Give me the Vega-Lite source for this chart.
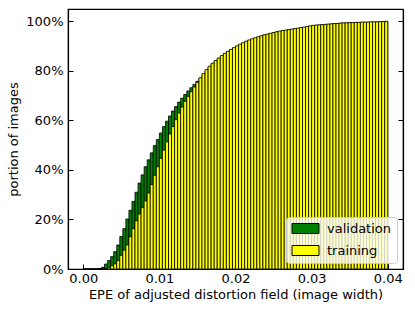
{
  "$schema": "https://vega.github.io/schema/vega-lite/v6.json",
  "width": 335,
  "height": 260,
  "autosize": "none",
  "padding": {"left": 68, "top": 9, "right": 12, "bottom": 43},
  "background": "white",
  "config": {
    "font": "DejaVu Sans",
    "view": {"stroke": "black", "strokeWidth": 1.2},
    "axis": {
      "labelFont": "DejaVu Sans", "labelFontSize": 13, "labelColor": "black",
      "titleFont": "DejaVu Sans", "titleFontSize": 13, "titleColor": "black", "titleFontWeight": "normal",
      "domainColor": "black", "domainWidth": 1.2,
      "tickColor": "black", "tickWidth": 1, "tickSize": -5,
      "grid": false, "zindex": 1
    },
    "legend": {
      "labelFont": "DejaVu Sans", "labelFontSize": 13, "labelColor": "black"
    }
  },
  "data": {"values": [
    {"lo":0.0000,"hi":0.0004,"validation":0,"training":0},
    {"lo":0.0004,"hi":0.0008,"validation":0,"training":0},
    {"lo":0.0008,"hi":0.0012,"validation":0,"training":0},
    {"lo":0.0012,"hi":0.0016,"validation":0,"training":0},
    {"lo":0.0016,"hi":0.0020,"validation":0,"training":0},
    {"lo":0.0020,"hi":0.0024,"validation":0.002,"training":0},
    {"lo":0.0024,"hi":0.0028,"validation":0.007,"training":0},
    {"lo":0.0028,"hi":0.0032,"validation":0.020,"training":0.002},
    {"lo":0.0032,"hi":0.0036,"validation":0.034,"training":0.005},
    {"lo":0.0036,"hi":0.0040,"validation":0.050,"training":0.013},
    {"lo":0.0040,"hi":0.0044,"validation":0.070,"training":0.021},
    {"lo":0.0044,"hi":0.0048,"validation":0.097,"training":0.034},
    {"lo":0.0048,"hi":0.0052,"validation":0.131,"training":0.055},
    {"lo":0.0052,"hi":0.0056,"validation":0.163,"training":0.076},
    {"lo":0.0056,"hi":0.0060,"validation":0.202,"training":0.097},
    {"lo":0.0060,"hi":0.0064,"validation":0.237,"training":0.130},
    {"lo":0.0064,"hi":0.0068,"validation":0.273,"training":0.163},
    {"lo":0.0068,"hi":0.0072,"validation":0.310,"training":0.195},
    {"lo":0.0072,"hi":0.0076,"validation":0.347,"training":0.222},
    {"lo":0.0076,"hi":0.0080,"validation":0.380,"training":0.248},
    {"lo":0.0080,"hi":0.0084,"validation":0.413,"training":0.275},
    {"lo":0.0084,"hi":0.0088,"validation":0.441,"training":0.307},
    {"lo":0.0088,"hi":0.0092,"validation":0.469,"training":0.341},
    {"lo":0.0092,"hi":0.0096,"validation":0.498,"training":0.378},
    {"lo":0.0096,"hi":0.0100,"validation":0.523,"training":0.413},
    {"lo":0.0100,"hi":0.0104,"validation":0.549,"training":0.447},
    {"lo":0.0104,"hi":0.0108,"validation":0.575,"training":0.480},
    {"lo":0.0108,"hi":0.0112,"validation":0.597,"training":0.513},
    {"lo":0.0112,"hi":0.0116,"validation":0.618,"training":0.545},
    {"lo":0.0116,"hi":0.0120,"validation":0.638,"training":0.575},
    {"lo":0.0120,"hi":0.0124,"validation":0.656,"training":0.603},
    {"lo":0.0124,"hi":0.0128,"validation":0.674,"training":0.630},
    {"lo":0.0128,"hi":0.0132,"validation":0.690,"training":0.654},
    {"lo":0.0132,"hi":0.0136,"validation":0.705,"training":0.677},
    {"lo":0.0136,"hi":0.0140,"validation":0.719,"training":0.697},
    {"lo":0.0140,"hi":0.0144,"validation":0.732,"training":0.716},
    {"lo":0.0144,"hi":0.0148,"validation":0.745,"training":0.735},
    {"lo":0.0148,"hi":0.0152,"validation":0.758,"training":0.754},
    {"lo":0.0152,"hi":0.0156,"validation":0.770,"training":0.772},
    {"lo":0.0156,"hi":0.0160,"validation":0.784,"training":0.789},
    {"lo":0.0160,"hi":0.0164,"validation":0.800,"training":0.805},
    {"lo":0.0164,"hi":0.0168,"validation":0.814,"training":0.819},
    {"lo":0.0168,"hi":0.0172,"validation":0.826,"training":0.831},
    {"lo":0.0172,"hi":0.0176,"validation":0.838,"training":0.842},
    {"lo":0.0176,"hi":0.0180,"validation":0.848,"training":0.852},
    {"lo":0.0180,"hi":0.0184,"validation":0.858,"training":0.862},
    {"lo":0.0184,"hi":0.0188,"validation":0.867,"training":0.871},
    {"lo":0.0188,"hi":0.0192,"validation":0.876,"training":0.879},
    {"lo":0.0192,"hi":0.0196,"validation":0.884,"training":0.887},
    {"lo":0.0196,"hi":0.0200,"validation":0.891,"training":0.894},
    {"lo":0.0200,"hi":0.0204,"validation":0.898,"training":0.901},
    {"lo":0.0204,"hi":0.0208,"validation":0.905,"training":0.908},
    {"lo":0.0208,"hi":0.0212,"validation":0.911,"training":0.914},
    {"lo":0.0212,"hi":0.0216,"validation":0.917,"training":0.920},
    {"lo":0.0216,"hi":0.0220,"validation":0.922,"training":0.925},
    {"lo":0.0220,"hi":0.0224,"validation":0.927,"training":0.930},
    {"lo":0.0224,"hi":0.0228,"validation":0.931,"training":0.934},
    {"lo":0.0228,"hi":0.0232,"validation":0.935,"training":0.938},
    {"lo":0.0232,"hi":0.0236,"validation":0.940,"training":0.942},
    {"lo":0.0236,"hi":0.0240,"validation":0.944,"training":0.946},
    {"lo":0.0240,"hi":0.0244,"validation":0.947,"training":0.949},
    {"lo":0.0244,"hi":0.0248,"validation":0.950,"training":0.952},
    {"lo":0.0248,"hi":0.0252,"validation":0.953,"training":0.955},
    {"lo":0.0252,"hi":0.0256,"validation":0.956,"training":0.958},
    {"lo":0.0256,"hi":0.0260,"validation":0.959,"training":0.961},
    {"lo":0.0260,"hi":0.0264,"validation":0.961,"training":0.963},
    {"lo":0.0264,"hi":0.0268,"validation":0.963,"training":0.965},
    {"lo":0.0268,"hi":0.0272,"validation":0.965,"training":0.967},
    {"lo":0.0272,"hi":0.0276,"validation":0.967,"training":0.969},
    {"lo":0.0276,"hi":0.0280,"validation":0.969,"training":0.971},
    {"lo":0.0280,"hi":0.0284,"validation":0.971,"training":0.973},
    {"lo":0.0284,"hi":0.0288,"validation":0.973,"training":0.975},
    {"lo":0.0288,"hi":0.0292,"validation":0.975,"training":0.977},
    {"lo":0.0292,"hi":0.0296,"validation":0.977,"training":0.979},
    {"lo":0.0296,"hi":0.0300,"validation":0.980,"training":0.982},
    {"lo":0.0300,"hi":0.0304,"validation":0.982,"training":0.984},
    {"lo":0.0304,"hi":0.0308,"validation":0.984,"training":0.985},
    {"lo":0.0308,"hi":0.0312,"validation":0.985,"training":0.986},
    {"lo":0.0312,"hi":0.0316,"validation":0.986,"training":0.987},
    {"lo":0.0316,"hi":0.0320,"validation":0.987,"training":0.988},
    {"lo":0.0320,"hi":0.0324,"validation":0.988,"training":0.989},
    {"lo":0.0324,"hi":0.0328,"validation":0.989,"training":0.990},
    {"lo":0.0328,"hi":0.0332,"validation":0.990,"training":0.991},
    {"lo":0.0332,"hi":0.0336,"validation":0.991,"training":0.992},
    {"lo":0.0336,"hi":0.0340,"validation":0.992,"training":0.993},
    {"lo":0.0340,"hi":0.0344,"validation":0.993,"training":0.994},
    {"lo":0.0344,"hi":0.0348,"validation":0.993,"training":0.994},
    {"lo":0.0348,"hi":0.0352,"validation":0.994,"training":0.995},
    {"lo":0.0352,"hi":0.0356,"validation":0.994,"training":0.995},
    {"lo":0.0356,"hi":0.0360,"validation":0.995,"training":0.996},
    {"lo":0.0360,"hi":0.0364,"validation":0.995,"training":0.996},
    {"lo":0.0364,"hi":0.0368,"validation":0.996,"training":0.997},
    {"lo":0.0368,"hi":0.0372,"validation":0.996,"training":0.997},
    {"lo":0.0372,"hi":0.0376,"validation":0.996,"training":0.997},
    {"lo":0.0376,"hi":0.0380,"validation":0.997,"training":0.998},
    {"lo":0.0380,"hi":0.0384,"validation":0.997,"training":0.998},
    {"lo":0.0384,"hi":0.0388,"validation":0.997,"training":0.998},
    {"lo":0.0388,"hi":0.0392,"validation":0.998,"training":0.999},
    {"lo":0.0392,"hi":0.0396,"validation":0.999,"training":0.999},
    {"lo":0.0396,"hi":0.0400,"validation":1.0,"training":1.0}
  ]},
  "encoding": {
    "x": {
      "field": "lo", "type": "quantitative",
      "scale": {"domain": [-0.002, 0.042], "nice": false, "zero": false},
      "axis": {"values": [0, 0.01, 0.02, 0.03, 0.04], "format": ".2f", "labelPadding": 8, "title": "EPE of adjusted distortion field (image width)", "titlePadding": 3}
    },
    "x2": {"field": "hi"},
    "y2": {"datum": 0}
  },
  "layer": [
    {
      "mark": {"type": "bar", "stroke": "black", "strokeWidth": 0.8},
      "encoding": {
        "y": {
          "field": "validation", "type": "quantitative",
          "scale": {"domain": [0, 1.05], "nice": false},
          "axis": {"values": [0, 0.2, 0.4, 0.6, 0.8, 1.0], "format": ".0%", "labelPadding": 10, "title": "portion of images", "titlePadding": 5}
        },
        "color": {
          "datum": "validation", "type": "nominal",
          "scale": {"domain": ["validation", "training"], "range": ["#008000", "#ffff00"]},
          "legend": {
            "title": null, "orient": "bottom-right", "offset": 6,
            "fillColor": "rgba(255,255,255,0.8)", "strokeColor": "#cccccc", "cornerRadius": 3,
            "padding": 5,
            "symbolType": "M-2.7,-1L2.7,-1L2.7,1L-2.7,1Z",
            "symbolSize": 100,
            "symbolOffset": 8,
            "symbolStrokeColor": "black", "symbolStrokeWidth": 1, "symbolOpacity": 1,
            "labelOffset": 15, "rowPadding": 7
          }
        }
      }
    },
    {
      "mark": {"type": "bar", "stroke": "black", "strokeWidth": 0.8},
      "encoding": {
        "y": {
          "field": "training", "type": "quantitative",
          "axis": {"orient": "right", "values": [0, 0.2, 0.4, 0.6, 0.8, 1.0], "labels": false, "title": null}
        },
        "color": {"datum": "training", "type": "nominal"}
      }
    }
  ],
  "resolve": {"axis": {"y": "independent"}}
}
